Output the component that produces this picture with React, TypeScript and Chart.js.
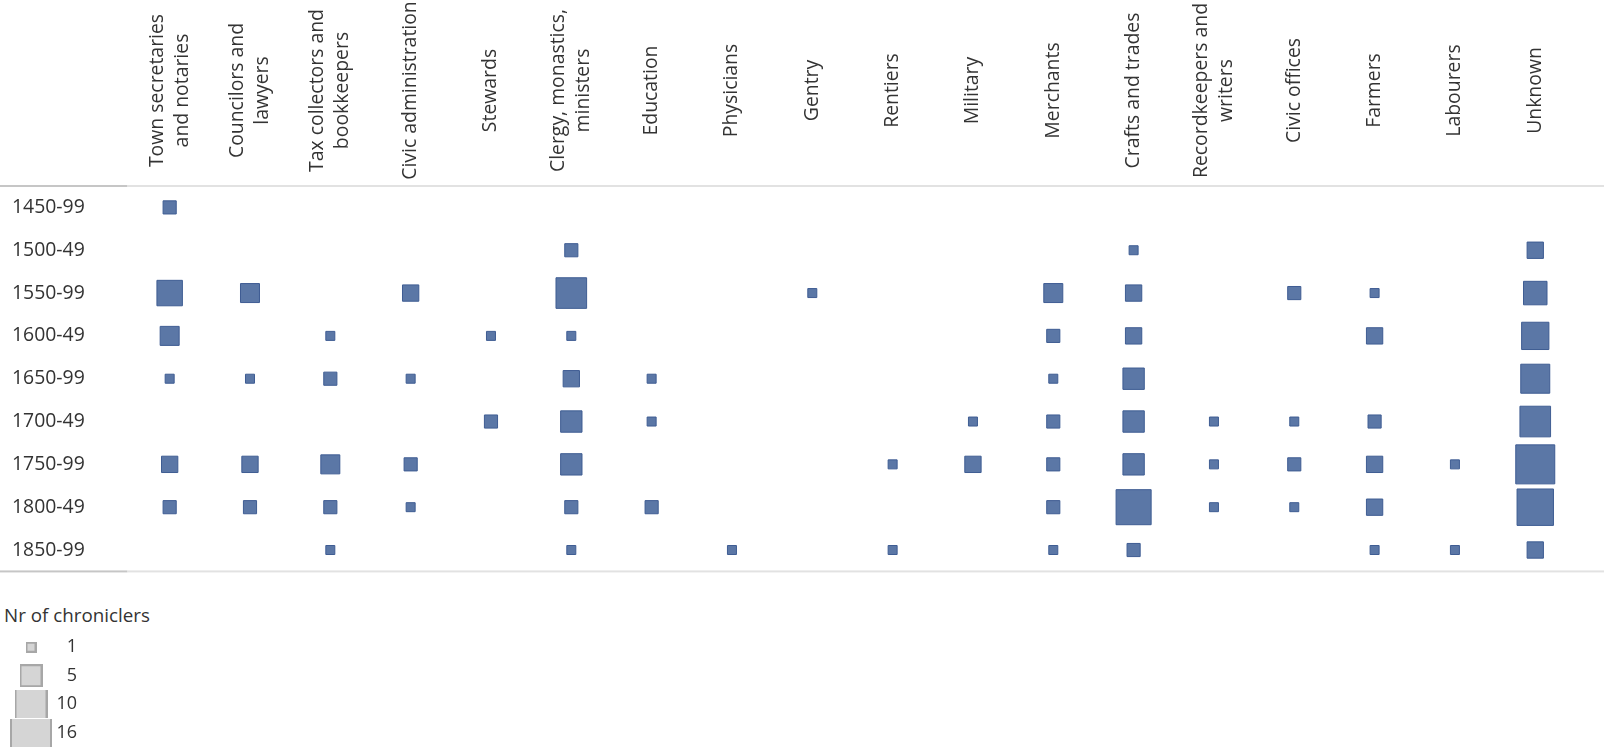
import React, { useEffect, useRef } from 'react';
import { Chart, registerables } from 'chart.js';

Chart.register(...registerables);

// ---- Data ----
const headerLines: string[][] = [
  ['Town secretaries', 'and notaries'],
  ['Councilors and', 'lawyers'],
  ['Tax collectors and', 'bookkeepers'],
  ['Civic administration'],
  ['Stewards'],
  ['Clergy, monastics,', 'ministers'],
  ['Education'],
  ['Physicians'],
  ['Gentry'],
  ['Rentiers'],
  ['Military'],
  ['Merchants'],
  ['Crafts and trades'],
  ['Recordkeepers and', 'writers'],
  ['Civic offices'],
  ['Farmers'],
  ['Labourers'],
  ['Unknown'],
];
const categories = headerLines.map((l) => l.join(' '));

const periods = ['1450-99', '1500-49', '1550-99', '1600-49', '1650-99', '1700-49', '1750-99', '1800-49', '1850-99'];

// counts per category (same order as categories), 0 = none
const p1450 = [2, 0, 0, 0, 0, 0, 0, 0, 0, 0, 0, 0, 0, 0, 0, 0, 0, 0];
const p1500 = [0, 0, 0, 0, 0, 2, 0, 0, 0, 0, 0, 0, 1, 0, 0, 0, 0, 3];
const p1550 = [7, 4, 0, 3, 0, 10, 0, 0, 1, 0, 0, 4, 3, 0, 2, 1, 0, 6];
const p1600 = [4, 0, 1, 0, 1, 1, 0, 0, 0, 0, 0, 2, 3, 0, 0, 3, 0, 8];
const p1650 = [1, 1, 2, 1, 0, 3, 1, 0, 0, 0, 0, 1, 5, 0, 0, 0, 0, 9];
const p1700 = [0, 0, 0, 0, 2, 5, 1, 0, 0, 0, 1, 2, 5, 1, 1, 2, 0, 10];
const p1750 = [3, 3, 4, 2, 0, 5, 0, 0, 0, 1, 3, 2, 5, 1, 2, 3, 1, 16];
const p1800 = [2, 2, 2, 1, 0, 2, 2, 0, 0, 0, 0, 2, 13, 1, 1, 3, 0, 14];
const p1850 = [0, 0, 1, 0, 0, 1, 0, 1, 0, 1, 0, 1, 2, 0, 0, 1, 1, 3];
const periodValues = [p1450, p1500, p1550, p1600, p1650, p1700, p1750, p1800, p1850];

const legendTitle = 'Nr of chroniclers';
const legendValues = [1, 5, 10, 16];
const legendLabels = legendValues.map(String);

const FONT = "'Open Sans', sans-serif";
const TEXT = '#333333';
const FILL = '#5b77a6';
const EDGE = '#3f5d93';

type Pt = { x: string; y: string; v: number };

const tablePlugin = {
  id: 'tableFrame',
  beforeDatasetsDraw(chart: any) {
    const { ctx, chartArea } = chart;
    const w = chart.width;
    ctx.save();
    const line = (y: number) => {
      ctx.fillStyle = '#c6c6c6';
      ctx.fillRect(0, y - 1, chartArea.left - 2, 2);
      ctx.fillStyle = '#e2e2e2';
      ctx.fillRect(chartArea.left - 2, y - 1, w - chartArea.left + 2, 2);
    };
    line(chartArea.top);
    line(chartArea.bottom);
    ctx.restore();
  },
  afterDraw(chart: any) {
    const { ctx } = chart;
    const xs = chart.scales.x;
    const cy = 90.5;
    const lh = 25;
    ctx.save();
    ctx.fillStyle = TEXT;
    ctx.font = `19.4px ${FONT}`;
    ctx.textAlign = 'center';
    ctx.textBaseline = 'middle';
    headerLines.forEach((lines, i) => {
      const x = xs.getPixelForValue(i);
      ctx.save();
      ctx.translate(x, cy);
      ctx.rotate(-Math.PI / 2);
      lines.forEach((t, j) => {
        ctx.fillText(t, 0, (j - (lines.length - 1) / 2) * lh);
      });
      ctx.restore();
    });
    ctx.restore();
  },
};

const legendSwatches = new Map<number, HTMLCanvasElement>();
function swatch(v: number): HTMLCanvasElement {
  const cached = legendSwatches.get(v);
  if (cached) return cached;
  const s = Math.round(10.5 * Math.sqrt(v));
  const h = Math.min(s, 28);
  const c = document.createElement('canvas');
  c.width = s;
  c.height = h;
  const g = c.getContext('2d')!;
  g.fillStyle = '#d5d5d5';
  g.fillRect(0, 0, s, h);
  g.strokeStyle = '#a7a7a7';
  g.lineWidth = 2;
  g.strokeRect(1, (h - s) / 2 + 1, s - 2, s - 2);
  legendSwatches.set(v, c);
  return c;
}

export default function App() {
  const mainRef = useRef<HTMLCanvasElement>(null);
  const legRef = useRef<HTMLCanvasElement>(null);

  useEffect(() => {
    const points: Pt[] = [];
    periodValues.forEach((row, r) => {
      row.forEach((v, c) => {
        if (v > 0) points.push({ x: categories[c], y: periods[r], v });
      });
    });

    const main = new Chart(mainRef.current!, {
      type: 'scatter',
      data: {
        datasets: [
          {
            data: points as any,
            pointStyle: 'rect',
            backgroundColor: FILL,
            borderColor: EDGE,
            borderWidth: 1,
            pointRadius: (ctx: any) => (10 * Math.sqrt(ctx.raw.v) - 1) / Math.SQRT2,
            pointHoverRadius: (ctx: any) => (10 * Math.sqrt(ctx.raw.v) - 1) / Math.SQRT2,
          },
        ],
      },
      options: {
        responsive: false,
        animation: false,
        events: [],
        layout: { padding: { left: 12, right: 2.5, top: 0, bottom: 18 } },
        plugins: { legend: { display: false }, tooltip: { enabled: false } },
        scales: {
          x: {
            type: 'category',
            labels: categories,
            position: 'top',
            offset: true,
            grid: { display: false },
            border: { display: false },
            ticks: { display: false },
            afterFit: (s: any) => {
              s.height = 186;
              s.paddingLeft = 0;
              s.paddingRight = 0;
            },
          },
          y: {
            type: 'category',
            labels: periods,
            offset: true,
            grid: { display: false },
            border: { display: false },
            ticks: {
              color: TEXT,
              font: { family: FONT, size: 19.4 },
              crossAlign: 'far',
              padding: 0,
            },
            afterFit: (s: any) => {
              s.width = 117.5;
              s.paddingTop = 0;
              s.paddingBottom = 0;
            },
          },
        },
      },
      plugins: [tablePlugin],
    });

    const legend = new Chart(legRef.current!, {
      type: 'scatter',
      data: {
        datasets: [
          {
            data: legendValues.map((v, i) => ({ x: 0.5, y: legendLabels[i], v })) as any,
            pointStyle: (ctx: any) => swatch(ctx.raw.v),
            pointRadius: 5,
            pointHoverRadius: 5,
            clip: false as any,
          },
        ],
      },
      options: {
        responsive: false,
        animation: false,
        events: [],
        layout: { padding: { left: 0, right: 3, top: 0, bottom: 0 } },
        plugins: { legend: { display: false }, tooltip: { enabled: false } },
        scales: {
          x: { type: 'linear', min: 0, max: 1, display: false },
          y: {
            type: 'category',
            labels: legendLabels,
            position: 'right',
            offset: true,
            grid: { display: false },
            border: { display: false },
            ticks: {
              color: TEXT,
              font: { family: FONT, size: 18 },
              crossAlign: 'far',
              padding: 0,
            },
            afterFit: (s: any) => {
              s.width = 21;
              s.paddingTop = 0;
              s.paddingBottom = 0;
            },
          },
        },
      },
    });

    return () => {
      main.destroy();
      legend.destroy();
    };
  }, []);

  return (
    <div style={{ position: 'fixed', left: 0, top: 0, width: 1604, height: 753, background: '#fff', overflow: 'hidden' }}>
      <canvas ref={mainRef} width={1604} height={600} style={{ position: 'absolute', left: 0, top: 0, width: 1604, height: 600 }} />
      <div
        style={{
          position: 'absolute',
          left: 4,
          top: 603,
          fontFamily: FONT,
          fontSize: 18.8,
          lineHeight: '24px',
          color: TEXT,
          whiteSpace: 'nowrap',
        }}
      >
        {legendTitle}
      </div>
      <canvas ref={legRef} width={80} height={126} style={{ position: 'absolute', left: 0, top: 627, width: 80, height: 126 }} />
    </div>
  );
}
